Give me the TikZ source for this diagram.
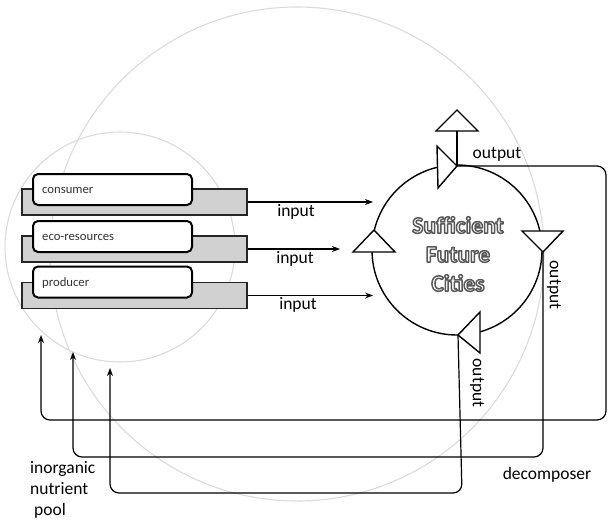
\documentclass[tikz,border=0pt]{standalone}
\usepackage{fontspec}
\setmainfont{Carlito}
\usetikzlibrary{arrows.meta}
\newcommand{\hollowtext}[1]{{\color{white}\special{pdf:literal direct 0.35 G 1.5 w 1 j 2 Tr}#1\special{pdf:literal direct 0 Tr}}}
\begin{document}
\begin{tikzpicture}[x=1pt,y=-1pt,
  ghost/.style={draw=black!14, line width=1.1pt},
  backbox/.style={draw=black!85, line width=1.4pt, fill=black!18, minimum width=225pt, minimum height=26pt, inner sep=0pt},
  frontbox/.style={draw=black, line width=2pt, fill=white, rounded corners=5pt, minimum width=159pt, minimum height=31pt, inner sep=0pt},
  boxtext/.style={font=\fontsize{12.7}{15}\selectfont, text=black!80, anchor=west, inner sep=0pt},
  lbl/.style={font=\fontsize{17.5}{21}\selectfont, inner sep=0pt},
  flow/.style={line width=1.2pt},
  arr/.style={flow, -{Stealth[length=8pt,width=6pt]}},
  tri/.style={draw, line width=1.4pt, fill=white, line join=miter},
  bigtext/.style={font=\bfseries\fontsize{23.5}{29}\selectfont, align=center, inner sep=0pt},
]
\useasboundingbox (0,0) rectangle (610,522);
% faint background circles
\draw[ghost] (297,254) circle [radius=247pt];
\draw[ghost] (120,247) circle [radius=115pt];

% boxes
\node[backbox] (cb) at (134.5,202) {};
\node[frontbox] (cf) at (112.5,189.5) {};
\node[boxtext] (ct) at (42,190) {consumer};
\node[backbox] (eb) at (134.5,249) {};
\node[frontbox] (ef) at (112.5,236.5) {};
\node[boxtext] (et) at (42,237) {eco-resources};
\node[backbox] (pb) at (134.5,295.5) {};
\node[frontbox] (pf) at (112.5,282) {};
\node[boxtext] (pt) at (42,283) {producer};

% main circle
\node[draw, circle, line width=1.4pt, minimum size=170pt, inner sep=0pt] (sfc) at (457,250) {};
\node[bigtext] (sfct) at (458,254) {\hollowtext{Sufficient}\\\hollowtext{Future}\\\hollowtext{Cities}};

% input arrows
\coordinate (in1) at (373,202);
\coordinate (in2) at (340,249);
\coordinate (in3) at (373,295.5);
\draw[arr] (cb.east) -- (in1);
\draw[arr] (eb.east) -- (in2);
\draw[arr] (pb.east) -- (in3);
\node[lbl] (l1) at (296,212) {input};
\node[lbl] (l2) at (295,259) {input};
\node[lbl] (l3) at (298,305) {input};

% triangles on the circle
\coordinate (topA) at (457,166);
\coordinate (upB) at (457,131);
\coordinate (rA) at (543,252);
\coordinate (bA) at (458,335);
\draw[tri] (437,146) -- (topA) -- (438,188) -- cycle;
\draw[tri] (436,131) -- (478,131) -- (457,110) -- cycle;
\draw[tri] (522,231) -- (563,231) -- (rA) -- cycle;
\draw[tri] (480,312) -- (480,353) -- (bA) -- cycle;
\draw[tri] (353,252) -- (395,252) -- (374,230) -- cycle;

% output lines
\coordinate (k1) at (606,166);
\coordinate (k2) at (606,420);
\coordinate (k3) at (41,420);
\coordinate (n1) at (41,335);
\coordinate (m1) at (543,457);
\coordinate (m2) at (73,457);
\coordinate (n2) at (73,352);
\coordinate (q1) at (462,493);
\coordinate (q2) at (110,493);
\coordinate (n3) at (110,368);
\draw[flow] (topA) -- (upB);
\draw[arr, rounded corners=9pt] (topA) -- (k1) -- (k2) -- (k3) -- (n1);
\draw[arr, rounded corners=9pt] (rA) -- (m1) -- (m2) -- (n2);
\draw[arr, rounded corners=9pt] (bA) -- (q1) -- (q2) -- (n3);

% labels
\node[lbl] (o1) at (497,154) {output};
\node[lbl, rotate=-90] (o2) at (554,285) {output};
\node[lbl, rotate=-90] (o3) at (477,383) {output};
\node[lbl] (dec) at (547,475) {decomposer};
\node[lbl, anchor=north west, align=left] (pool) at (30,461) {inorganic\\nutrient\\\ pool};
\end{tikzpicture}
\end{document}
